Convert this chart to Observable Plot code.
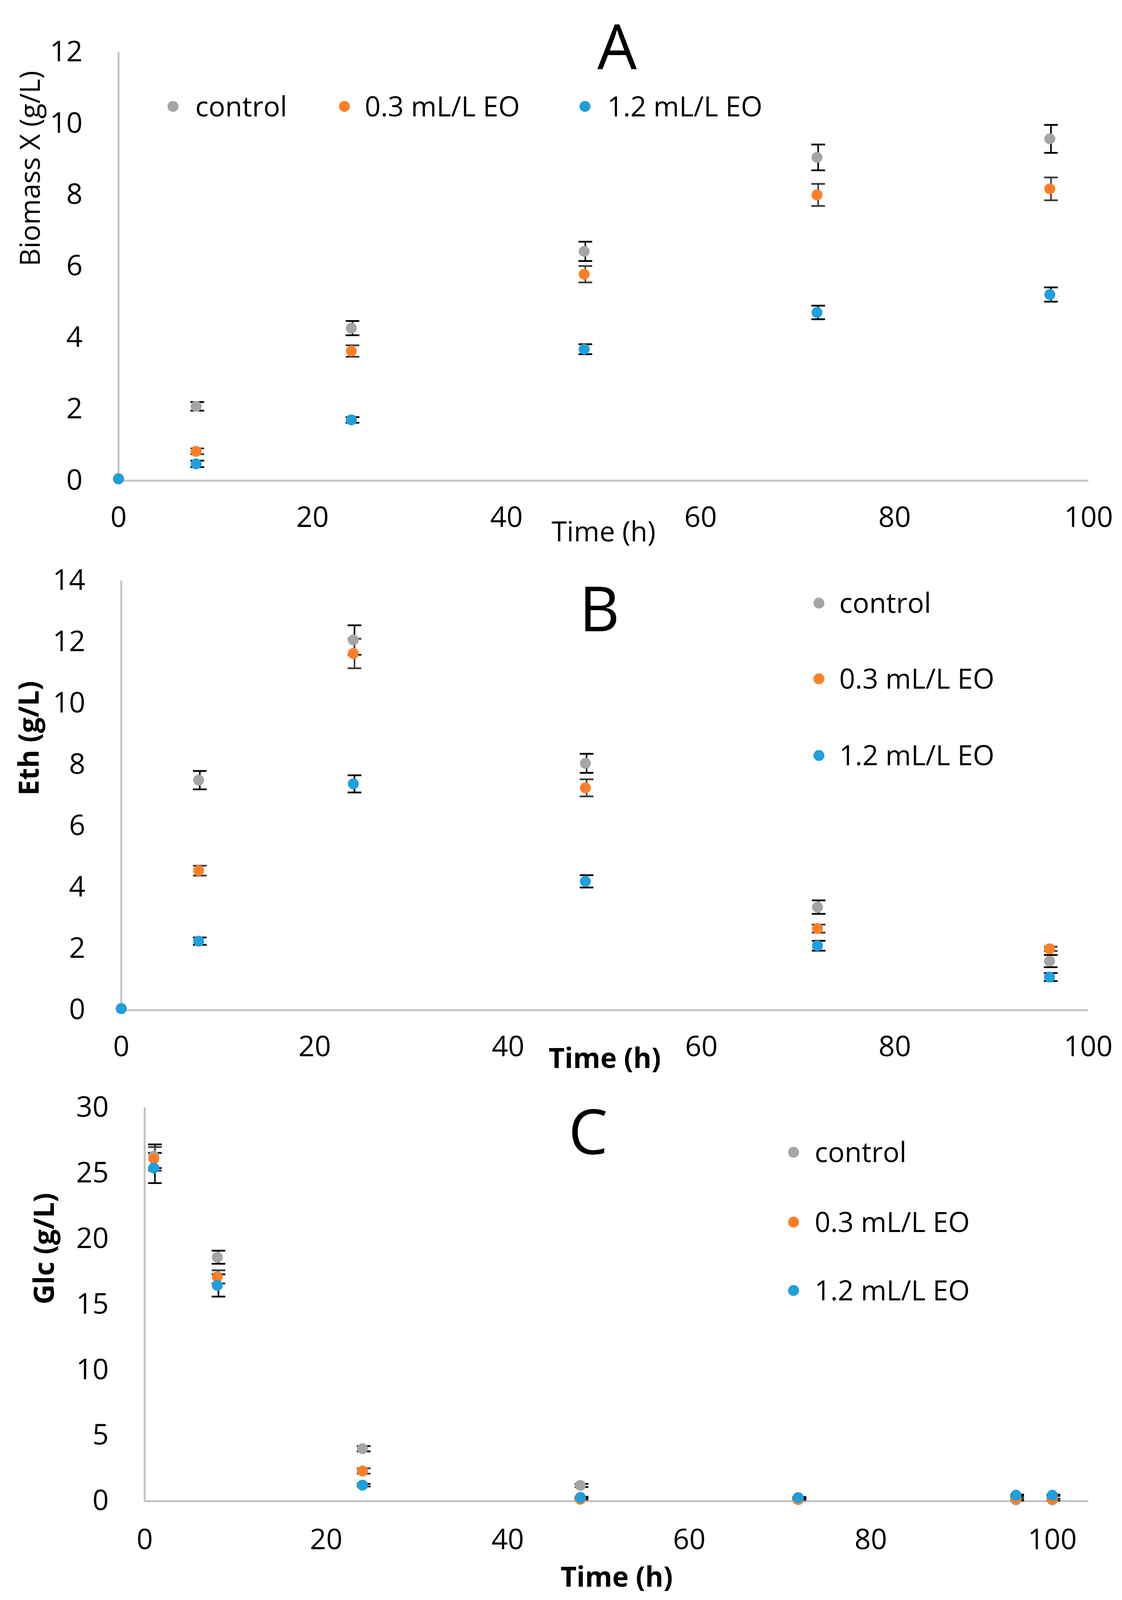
<!DOCTYPE html>
<html>
<head>
<meta charset="utf-8">
<script src="https://cdn.jsdelivr.net/npm/d3@7"></script>
<script src="https://cdn.jsdelivr.net/npm/@observablehq/plot@0.6"></script>
<style>
  html, body { margin: 0; padding: 0; background: #fff; }
  #wrap { position: relative; width: 2873px; background: #fff; overflow: hidden; }
  #wrap > svg { position: absolute; left: 0; }
</style>
</head>
<body>
<div id="wrap"></div>
<script>
// ---------- data ----------
const seriesNames = ["control", "0.3 mL/L EO", "1.2 mL/L EO"];
const seriesColors = ["#A5A5A5", "#FF7F27", "#1F9FDB"];
const errorColors = ["#000000", "#3A3A3A", "#000000"];

// Panel A: Biomass X (g/L)
const timeA = [0, 8, 24, 48, 72, 96];
const biomassControl = [0.05, 2.08, 4.27, 6.42, 9.05, 9.57];
const biomassControlErr = [0, 0.12, 0.2, 0.27, 0.36, 0.39];
const biomassLow = [0.05, 0.82, 3.63, 5.78, 8.0, 8.17];
const biomassLowErr = [0, 0.08, 0.16, 0.23, 0.31, 0.32];
const biomassHigh = [0.05, 0.47, 1.7, 3.68, 4.71, 5.21];
const biomassHighErr = [0, 0.09, 0.08, 0.14, 0.19, 0.2];

// Panel B: Eth (g/L)
const timeB = [0, 8, 24, 48, 72, 96];
const ethControl = [0.05, 7.5, 12.07, 8.05, 3.36, 1.6];
const ethControlErr = [0, 0.3, 0.48, 0.31, 0.22, 0.2];
const ethLow = [0.05, 4.55, 11.63, 7.25, 2.66, 2.0];
const ethLowErr = [0, 0.16, 0.48, 0.28, 0.13, 0.07];
const ethHigh = [0.05, 2.25, 7.38, 4.2, 2.1, 1.08];
const ethHighErr = [0, 0.12, 0.28, 0.2, 0.16, 0.13];

// Panel C: Glc (g/L)
const timeC = [1, 8, 24, 48, 72, 96, 100];
const glcControl = [26.3, 18.6, 4.0, 1.2, 0.2, 0.1, 0.1];
const glcControlErr = [0.9, 0.5, 0.2, 0.12, 0.05, 0.05, 0.05];
const glcLow = [26.1, 17.1, 2.3, 0.15, 0.12, 0.2, 0.15];
const glcLowErr = [0.9, 0.5, 0.2, 0.05, 0.05, 0.05, 0.05];
const glcHigh = [25.4, 16.45, 1.22, 0.28, 0.27, 0.45, 0.45];
const glcHighErr = [1.15, 0.85, 0.1, 0.05, 0.05, 0.05, 0.05];

// tick labels
const xTicks = [0, 20, 40, 60, 80, 100];
const yTicksA = [0, 2, 4, 6, 8, 10, 12];
const yTicksB = [0, 2, 4, 6, 8, 10, 12, 14];
const yTicksC = [0, 5, 10, 15, 20, 25, 30];

// ---------- layout ----------
// The photographed viewport is 4096 px tall, so the 5428-px-tall figure is
// compressed vertically (K) to fit; fonts are reduced moderately (S).
const FULL_H = 5428;
const VIEW_H = Math.min(window.innerHeight || 4096, FULL_H);
const K = VIEW_H / FULL_H;
const S = Math.sqrt(K);
const FONT = "'Open Sans', 'DejaVu Sans', sans-serif";
const AXIS = "#C4C4C4";
const TICK_FS = Math.round(84 * S);
const LABEL_FS = Math.round(82 * S);
const LETTER_FS = 160;

document.getElementById("wrap").style.height = VIEW_H + "px";

function buildRows(time, values, errors) {
  const rows = [];
  values.forEach((vals, i) => {
    vals.forEach((v, j) => {
      rows.push({t: time[j], v, e: errors[i][j], color: seriesColors[i], ec: errorColors[i], s: i});
    });
  });
  return rows;
}

const hbar = {
  draw(context, size) {
    const w = Math.sqrt(size / Math.PI);
    context.moveTo(-w, 0);
    context.lineTo(w, 0);
  }
};

function panel(cfg) {
  const rows = buildRows(cfg.time, cfg.values, cfg.errors);
  const withErr = rows.filter(d => d.e > 0);
  const digitH = 0.714 * TICK_FS;
  return Plot.plot({
    width: 2873,
    height: Math.round(cfg.height * K),
    marginTop: cfg.marginTop * K,
    marginBottom: cfg.marginBottom * K,
    marginLeft: cfg.marginLeft,
    marginRight: cfg.marginRight,
    x: {domain: cfg.xDomain},
    y: {domain: cfg.yDomain},
    color: {type: "identity"},
    style: {fontFamily: FONT, fontSize: TICK_FS + "px", color: "#000", background: "transparent", overflow: "visible"},
    marks: [
      Plot.ruleY([0], {stroke: AXIS, strokeWidth: 5}),
      Plot.ruleX([0], {stroke: AXIS, strokeWidth: 5}),
      Plot.axisX({ticks: xTicks, tickSize: 0, tickPadding: cfg.xTickCenter * K - digitH / 2, label: null, fontSize: TICK_FS, fill: "#000"}),
      Plot.axisY({ticks: cfg.yTicks, tickSize: 0, tickPadding: 92, label: null, fontSize: TICK_FS, fill: "#000"}),
      Plot.ruleX(withErr, {x: "t", y1: d => d.v - d.e, y2: d => d.v + d.e, stroke: "ec", strokeWidth: 4, dx: 3}),
      Plot.dot(withErr, {x: "t", y: d => d.v + d.e, symbol: hbar, r: 17.5, fill: "none", stroke: "ec", strokeWidth: 4.5, dx: 3}),
      Plot.dot(withErr, {x: "t", y: d => d.v - d.e, symbol: hbar, r: 17.5, fill: "none", stroke: "ec", strokeWidth: 4.5, dx: 3}),
      Plot.dot(rows, {x: "t", y: "v", r: 14, fill: "color", stroke: "none"}),
      Plot.text([cfg.xLabel], {text: d => d, frameAnchor: "bottom", dy: cfg.xLabelDy * K, lineAnchor: "bottom",
        fontSize: LABEL_FS, fontWeight: cfg.bold ? "bold" : "normal", fill: "#000"}),
      Plot.text([cfg.yLabel], {text: d => d, frameAnchor: "left", rotate: -90, dx: cfg.yLabelDx, lineAnchor: "bottom",
        fontSize: LABEL_FS, fontWeight: cfg.bold ? "bold" : "normal", fill: "#000"})
    ]
  });
}

const wrap = document.getElementById("wrap");

// layout numbers below are in the reference's 2873x5428 pixel frame
const panels = [
  {top: 0, height: 1870, marginTop: 176, marginBottom: 240, marginLeft: 303, marginRight: 86,
   xDomain: [0, 100], yDomain: [0, 12], yTicks: yTicksA, time: timeA, xTickCenter: 123,
   values: [biomassControl, biomassLow, biomassHigh], errors: [biomassControlErr, biomassLowErr, biomassHighErr],
   xLabel: "Time (h)", yLabel: "Biomass X (g/L)", bold: false, xLabelDy: 206, yLabelDx: -202},
  {top: 1870, height: 1770, marginTop: 100, marginBottom: 214, marginLeft: 310, marginRight: 87,
   xDomain: [0, 100], yDomain: [0, 14], yTicks: yTicksB, time: timeB, xTickCenter: 122,
   values: [ethControl, ethLow, ethHigh], errors: [ethControlErr, ethLowErr, ethHighErr],
   xLabel: "Time (h)", yLabel: "Eth (g/L)", bold: true, xLabelDy: 196, yLabelDx: -212},
  {top: 3640, height: 1788, marginTop: 117, marginBottom: 336, marginLeft: 370, marginRight: 86,
   xDomain: [0, 104], yDomain: [0, 30], yTicks: yTicksC, time: timeC, xTickCenter: 129,
   values: [glcControl, glcLow, glcHigh], errors: [glcControlErr, glcLowErr, glcHighErr],
   xLabel: "Time (h)", yLabel: "Glc (g/L)", bold: true, xLabelDy: 290, yLabelDx: -233}
];

panels.forEach(cfg => {
  const svg = panel(cfg);
  svg.style.top = Math.round(cfg.top * K) + "px";
  wrap.appendChild(svg);
});

// ---------- overlay: panel letters and legends ----------
// letter positions: centre x and baseline, in reference pixels
const letters = [
  {text: "A", x: 1580, base: 234},
  {text: "B", x: 1535, base: 2141},
  {text: "C", x: 1506, base: 3915}
];
const legends = [
  {items: [{dx: 443, tx: 500, y: 361}, {dx: 882, tx: 934, y: 361}, {dx: 1498, tx: 1555, y: 361}]},
  {items: [{dx: 2097, tx: 2149, y: 2046}, {dx: 2097, tx: 2149, y: 2303}, {dx: 2097, tx: 2149, y: 2563}]},
  {items: [{dx: 2032, tx: 2086, y: 3909}, {dx: 2032, tx: 2086, y: 4146}, {dx: 2032, tx: 2086, y: 4378}]}
];

const overlay = d3.create("svg")
  .attr("width", 2873).attr("height", VIEW_H)
  .style("top", "0px").style("pointer-events", "none")
  .attr("font-family", FONT);

overlay.selectAll("text.letter").data(letters).join("text")
  .attr("class", "letter")
  .attr("x", d => d.x).attr("y", d => d.base * K)
  .attr("text-anchor", "middle").attr("font-size", LETTER_FS).attr("fill", "#000")
  .text(d => d.text);

legends.forEach(lg => {
  lg.items.forEach((it, i) => {
    overlay.append("circle").attr("cx", it.dx).attr("cy", it.y * K).attr("r", 14).attr("fill", seriesColors[i]);
    overlay.append("text").attr("x", it.tx).attr("y", it.y * K + 0.357 * LABEL_FS)
      .attr("font-size", LABEL_FS).attr("fill", "#000").text(seriesNames[i]);
  });
});

wrap.appendChild(overlay.node());
</script>
</body>
</html>
